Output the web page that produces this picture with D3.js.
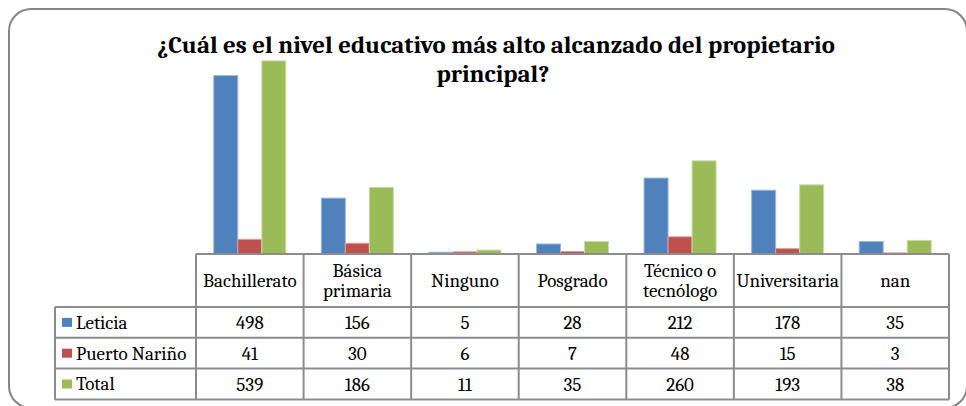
<!DOCTYPE html>
<html>
<head>
<meta charset="utf-8">
<script src="https://cdn.jsdelivr.net/npm/d3@7"></script>
<style>
  body { margin: 0; background: #fff; }
</style>
</head>
<body>
<div id="chart-area"></div>
<script>
// categories (header labels may wrap on two lines)
const categories = ['Bachillerato', 'Básica primaria', 'Ninguno', 'Posgrado', 'Técnico o tecnólogo', 'Universitaria', 'nan'];
const headerLines = [['Bachillerato'], ['Básica', 'primaria'], ['Ninguno'], ['Posgrado'], ['Técnico o', 'tecnólogo'], ['Universitaria'], ['nan']];
const seriesNames = ['Leticia', 'Puerto Nariño', 'Total'];
const leticia = [498, 156, 5, 28, 212, 178, 35];
const puertoNarino = [41, 30, 6, 7, 48, 15, 3];
const total = [539, 186, 11, 35, 260, 193, 38];
const colors = ['#4F81BD', '#C0504D', '#9BBB59'];
const strokes = ['#9DB8DC', '#DCA09E', '#C9DBA8'];

const FONT = 'Cambria, "Liberation Serif", serif';
const W = 966, H = 406;
const plot = { left: 196, right: 949, top: 39, base: 254 };
const table = { legendLeft: 55, headerBottom: 307, rowH: 30.8 };

main();

function main() {
  const svg = d3.select('#chart-area').append('svg')
    .attr('width', W)
    .attr('height', H)
    .attr('font-family', FONT);

  // frame
  svg.append('rect')
    .attr('x', 9).attr('y', 9)
    .attr('width', 958).attr('height', 399)
    .attr('rx', 22)
    .attr('fill', '#fff')
    .attr('stroke', '#868686')
    .attr('stroke-width', 2);

  // title
  const title = svg.append('text')
    .attr('text-anchor', 'middle')
    .attr('font-family', FONT)
    .attr('font-weight', 'bold')
    .attr('font-size', 24.8)
    .attr('fill', '#000');
  title.append('tspan').attr('x', 496).attr('y', 53)
    .text('¿Cuál es el nivel educativo más alto alcanzado del propietario');
  title.append('tspan').attr('x', 493).attr('y', 82)
    .text('principal?');

  const series = [leticia, puertoNarino, total];

  const x = d3.scaleBand()
    .domain(categories)
    .range([plot.left, plot.right])
    .padding(0);
  const xSub = d3.scaleBand()
    .domain(seriesNames)
    .range([0, x.bandwidth()])
    .paddingInner(0)
    .paddingOuter(0.74);
  const y = d3.scaleLinear()
    .domain([0, 600])
    .range([plot.base, plot.top]);

  // bars
  const groups = svg.append('g')
    .selectAll('g')
    .data(seriesNames)
    .join('g')
    .attr('fill', (d, i) => colors[i])
    .attr('stroke', (d, i) => strokes[i]);

  groups.selectAll('rect')
    .data((name, i) => series[i].map((v, j) => ({ name, cat: categories[j], v })))
    .join('rect')
    .attr('x', d => x(d.cat) + xSub(d.name))
    .attr('y', d => y(d.v))
    .attr('width', xSub.bandwidth())
    .attr('height', d => y(0) - y(d.v))
    .attr('stroke-width', 1);

  // data table
  const rowTop = i => table.headerBottom + i * table.rowH;
  const tableBottom = rowTop(seriesNames.length);
  const grid = svg.append('g')
    .attr('stroke', '#8C8C8C')
    .attr('stroke-width', 2)
    .attr('fill', 'none');

  // axis / top line of header
  grid.append('line')
    .attr('x1', plot.left).attr('x2', plot.right)
    .attr('y1', plot.base).attr('y2', plot.base);
  // vertical column lines
  const colEdges = categories.map(c => x(c)).concat([plot.right]);
  grid.selectAll('line.col')
    .data(colEdges)
    .join('line')
    .attr('class', 'col')
    .attr('x1', d => d).attr('x2', d => d)
    .attr('y1', plot.base).attr('y2', tableBottom);
  grid.append('line')
    .attr('x1', table.legendLeft).attr('x2', table.legendLeft)
    .attr('y1', table.headerBottom).attr('y2', tableBottom);
  // horizontal row lines
  grid.selectAll('line.row')
    .data(d3.range(seriesNames.length + 1))
    .join('line')
    .attr('class', 'row')
    .attr('x1', table.legendLeft).attr('x2', plot.right)
    .attr('y1', d => rowTop(d)).attr('y2', d => rowTop(d));

  // header labels
  const headerMid = (plot.base + table.headerBottom) / 2;
  svg.append('g')
    .selectAll('text')
    .data(categories)
    .join('text')
    .attr('text-anchor', 'middle')
    .attr('font-family', FONT)
    .attr('font-size', 19)
    .attr('fill', '#000')
    .each(function (c, i) {
      const lines = headerLines[i];
      const t = d3.select(this);
      lines.forEach((ln, k) => {
        t.append('tspan')
          .attr('x', x(c) + x.bandwidth() / 2)
          .attr('y', headerMid + 6 + (k - (lines.length - 1) / 2) * 20)
          .text(ln);
      });
    });

  // legend cells
  const legend = svg.append('g')
    .selectAll('g')
    .data(seriesNames)
    .join('g')
    .attr('transform', (d, i) => `translate(${table.legendLeft}, ${rowTop(i)})`);
  legend.append('rect')
    .attr('x', 7).attr('y', table.rowH / 2 - 4.5)
    .attr('width', 10).attr('height', 9)
    .attr('fill', (d, i) => colors[i]);
  legend.append('text')
    .attr('x', 21).attr('y', table.rowH / 2 + 6.5)
    .attr('font-family', FONT)
    .attr('font-size', 19)
    .attr('fill', '#000')
    .text(d => d);

  // values
  svg.append('g')
    .selectAll('g')
    .data(series)
    .join('g')
    .selectAll('text')
    .data((vals, i) => vals.map((v, j) => ({ v, j, i })))
    .join('text')
    .attr('x', d => x(categories[d.j]) + x.bandwidth() / 2)
    .attr('y', d => rowTop(d.i) + table.rowH / 2 + 6.5)
    .attr('text-anchor', 'middle')
    .attr('font-family', FONT)
    .attr('font-size', 19)
    .attr('fill', '#000')
    .text(d => d.v);
}
</script>
</body>
</html>
